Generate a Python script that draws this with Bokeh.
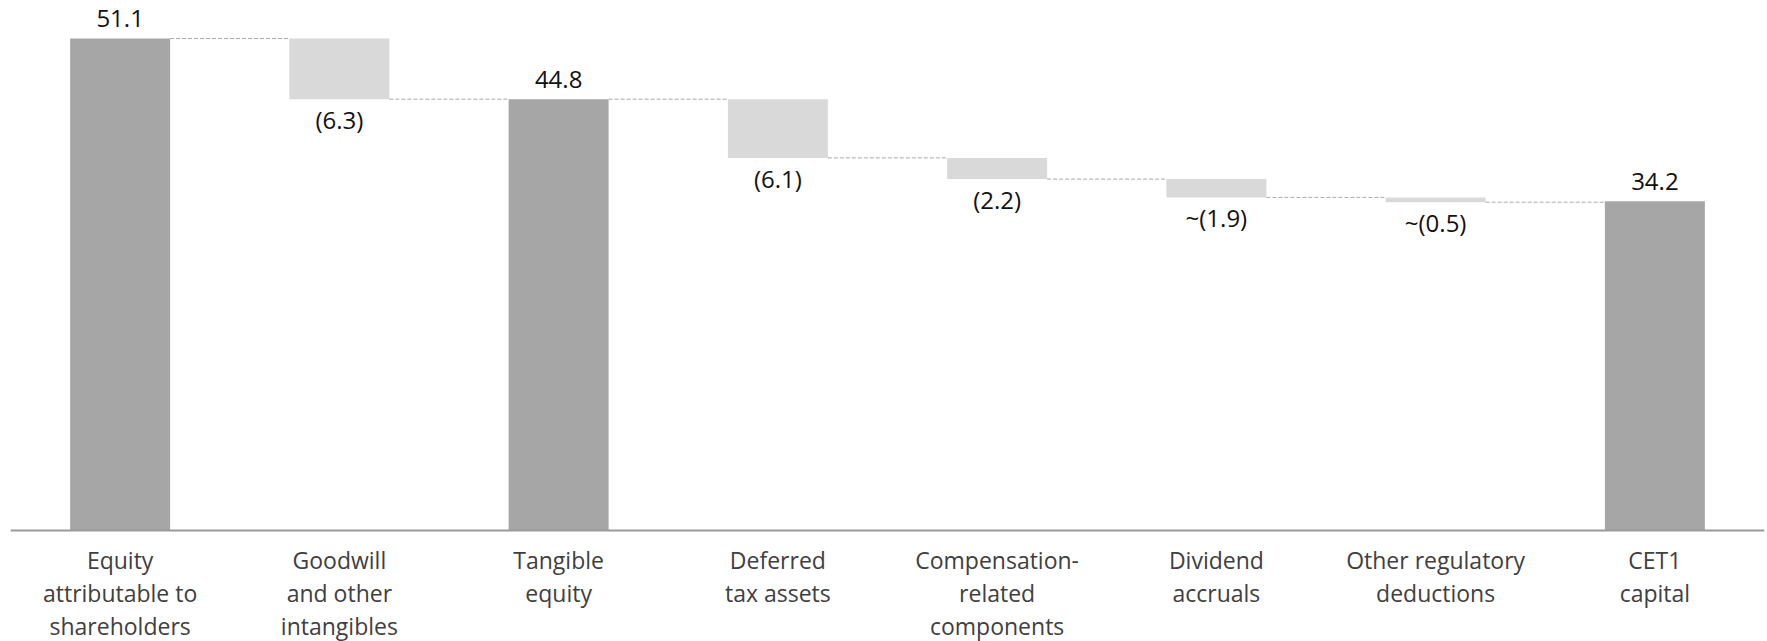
from bokeh.plotting import figure
from bokeh.models import ColumnDataSource, FactorRange, Range1d, Span
from bokeh.transform import dodge
from bokeh.core.properties import value
from bokeh.embed import file_html
from bokeh.resources import INLINE

categories = [
    "Equity\nattributable to\nshareholders",
    "Goodwill\nand other\nintangibles",
    "Tangible\nequity",
    "Deferred\ntax assets",
    "Compensation-\nrelated\ncomponents",
    "Dividend\naccruals",
    "Other regulatory\ndeductions",
    "CET1\ncapital",
]
kinds = ["total", "delta", "total", "delta", "delta", "delta", "delta", "total"]
values = [51.1, -6.3, 44.8, -6.1, -2.2, -1.9, -0.5, 34.2]
labels = ["51.1", "(6.3)", "44.8", "(6.1)", "(2.2)", "~(1.9)", "~(0.5)", "34.2"]

TOTAL_COLOR = "#a6a6a6"
DELTA_COLOR = "#d9d9d9"

# compute bar bottoms / tops
bottoms, tops, colors, level_after = [], [], [], []
running = 0.0
for k, v in zip(kinds, values):
    if k == "total":
        bottoms.append(0.0)
        tops.append(v)
        running = v
        colors.append(TOTAL_COLOR)
    else:
        start = running
        running = running + v
        bottoms.append(running)
        tops.append(start)
        colors.append(DELTA_COLOR)
    level_after.append(running)

src = ColumnDataSource(dict(cat=categories, bottom=bottoms, top=tops, color=colors,
                            zero=[0.0] * len(categories)))

p = figure(
    x_range=FactorRange(*categories, range_padding=0),
    y_range=Range1d(-11.53, 55.05),
    width=1767, height=641,
    output_backend="svg", toolbar_location=None,
    min_border_left=10, min_border_right=3, min_border_top=0, min_border_bottom=0,
)
p.outline_line_color = None
p.background_fill_color = "white"
p.border_fill_color = "white"
p.grid.visible = False
p.xaxis.visible = False
p.yaxis.visible = False

BAR_W = 0.456
p.vbar(x="cat", bottom="bottom", top="top", width=BAR_W, color="color", source=src, line_color=None)

# baseline (category axis line)
p.add_layout(Span(location=0, dimension="width", line_color="#999999", line_width=2))

# connectors
c_x, c_x2, c_y = [], [], []
for i in range(len(categories) - 1):
    c_x.append(categories[i])
    c_x2.append(categories[i + 1])
    c_y.append(level_after[i])
csrc = ColumnDataSource(dict(x0=c_x, x1=c_x2, y=c_y))
p.segment(x0=dodge("x0", BAR_W / 2, range=p.x_range), y0="y",
          x1=dodge("x1", -BAR_W / 2, range=p.x_range), y1="y",
          source=csrc, line_color="#aaaaaa", line_width=1, line_dash="4 2")

# value labels
up_src = ColumnDataSource(dict(
    cat=[c for c, k in zip(categories, kinds) if k == "total"],
    y=[t for t, k in zip(tops, kinds) if k == "total"],
    lab=[l for l, k in zip(labels, kinds) if k == "total"],
))
dn_src = ColumnDataSource(dict(
    cat=[c for c, k in zip(categories, kinds) if k == "delta"],
    y=[b for b, k in zip(bottoms, kinds) if k == "delta"],
    lab=[l for l, k in zip(labels, kinds) if k == "delta"],
))
p.text(x="cat", y="y", text="lab", source=up_src, text_align="center", text_baseline="alphabetic",
       y_offset=-20, text_font=value("Open Sans"), text_font_size="24px", text_color="#111111")
p.text(x="cat", y="y", text="lab", source=dn_src, text_align="center", text_baseline="top",
       y_offset=4, text_font=value("Open Sans"), text_font_size="24px", text_color="#111111")

# category labels under the baseline, positioned by the categorical scale
p.text(x="cat", y="zero", text="cat", source=src, text_align="center", text_baseline="top",
       y_offset=14, text_font=value("Open Sans"), text_font_size="23px", text_color="#404040",
       text_line_height=1.02)

open("out.html", "w").write(file_html(p, INLINE))
